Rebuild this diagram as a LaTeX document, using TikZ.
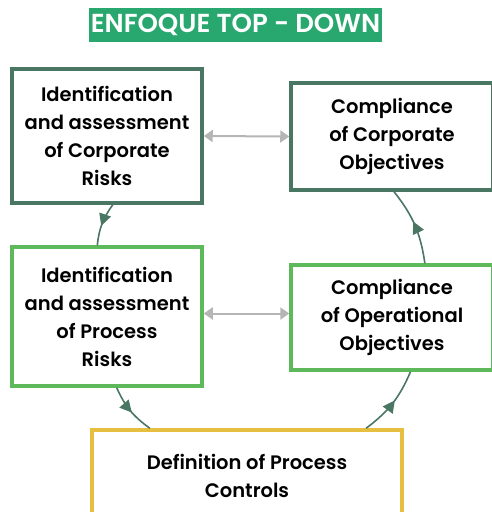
\documentclass[tikz,border=0pt]{standalone}
\usepackage{fontspec}
\setmainfont{Poppins}[BoldFont={Poppins SemiBold}]
\usetikzlibrary{arrows.meta,positioning,calc,decorations.markings}
\definecolor{tdgreen}{HTML}{28A86F}
\definecolor{tddark}{HTML}{4A7764}
\definecolor{tdlight}{HTML}{5DB95A}
\definecolor{tdyellow}{HTML}{E6BF40}
\definecolor{tdgrey}{HTML}{B5B5B5}
\tikzset{
  box/.style     = {rectangle, line width=3.5pt, fill=white, align=center,
                    font=\fontsize{19.5}{28}\selectfont\bfseries, inner sep=2pt},
  corp/.style    = {box, draw=tddark},
  proc/.style    = {box, draw=tdlight},
  ctrlbox/.style = {box, draw=tdyellow},
  link/.style    = {{Triangle[length=9pt,width=12pt]}-{Triangle[length=9pt,width=12pt]},
                    draw=tdgrey, line width=2pt},
  flow/.style    = {draw=tddark, line width=1.6pt, postaction={decorate},
                    decoration={markings,
                      mark=at position 0.55 with {\arrow{Triangle[length=12pt,width=12pt]}}}},
}

\begin{document}
\begin{tikzpicture}[x=1pt,y=-1pt]
  \useasboundingbox (0,0) rectangle (492,512);
  \node[fill=tdgreen, text=white, minimum width=293pt, minimum height=34pt, inner sep=0pt,
        font=\fontsize{26}{28}\selectfont\bfseries] (title) at (235.5,25) {ENFOQUE TOP - DOWN};
  \node[corp, minimum width=190pt, minimum height=134pt] (crisk) at (107,136)
    {Identification\\and assessment\\of Corporate\\Risks};
  \node[corp, minimum width=202pt, minimum height=107pt] (cobj) at (392,136.5)
    {Compliance\\of Corporate\\Objectives};
  \node[proc, minimum width=190pt, minimum height=139pt] (prisk) at (107,316.5)
    {Identification\\and assessment\\of Process\\Risks};
  \node[proc, minimum width=202pt, minimum height=105pt] (oobj) at (392,317.5)
    {Compliance\\of Operational\\Objectives};
  \node[ctrlbox, minimum width=310pt, minimum height=92pt] (ctrl) at (247,476)
    {Definition of Process\\Controls};
  % two-way links between risks and objectives
  \draw[link] (crisk.east) -- (cobj.west);
  \draw[link] ([yshift=3pt]prisk.east) -- ([yshift=3pt]prisk.east -| oobj.west);
  % top-down cycle
  \draw[flow] ($(crisk.south west)!0.53!(crisk.south east)$) to[bend right=15]
              ($(prisk.north west)!0.45!(prisk.north east)$);
  \draw[flow] ($(prisk.south west)!0.55!(prisk.south east)$) to[bend right=15]
              ($(ctrl.north west)!0.19!(ctrl.north east)$);
  \draw[flow] ($(ctrl.north west)!0.88!(ctrl.north east)$) to[bend right=15]
              ($(oobj.south west)!0.59!(oobj.south east)$);
  \draw[flow] ($(oobj.north west)!0.66!(oobj.north east)$) to[bend right=15]
              ($(cobj.south west)!0.51!(cobj.south east)$);
\end{tikzpicture}
\end{document}
